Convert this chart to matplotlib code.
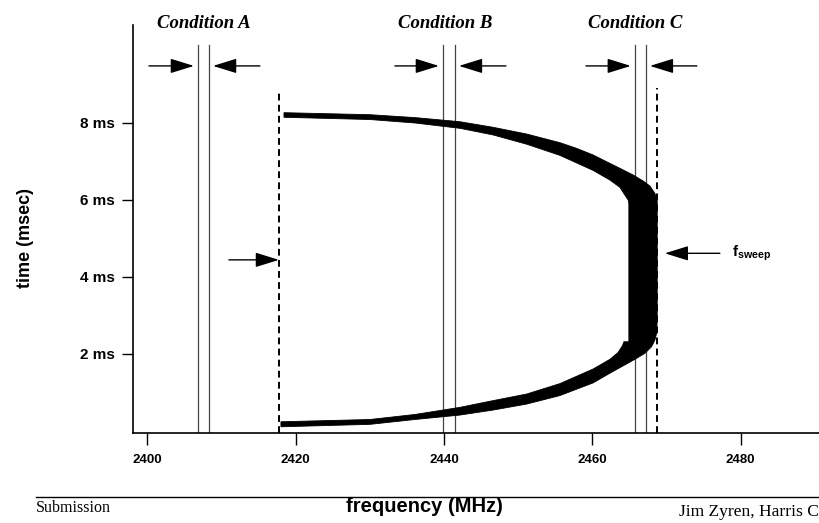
import matplotlib
matplotlib.use("Agg")
import matplotlib.pyplot as plt

# frequency axis / time axis
freq_ticks = [2400, 2420, 2440, 2460, 2480]
time_ticks = [2, 4, 6, 8]
time_labels = ["2 ms", "4 ms", "6 ms", "8 ms"]

# condition channel edges (MHz)
conditions = ["Condition A", "Condition B", "Condition C"]
cond_lo = [2406.85, 2439.87, 2465.74]
cond_hi = [2408.33, 2441.48, 2467.22]
cond_arrow_left = [2400.24, 2433.40, 2459.14]
cond_arrow_right = [2415.20, 2448.36, 2474.10]
cond_text_x = [2407.7, 2440.2, 2465.74]

# sweep limits (dashed)
sweep_lo = 2417.76
sweep_hi = 2468.71

# outline of the swept band: (freq MHz, time ms)
upper_outer_f = [2418.44, 2430.03, 2436.09, 2442.16, 2446.64, 2451.15, 2455.64, 2457.88,
                 2460.12, 2461.93, 2463.72, 2465.51, 2466.86, 2467.76, 2468.44, 2468.75]
upper_outer_t = [8.257, 8.205, 8.130, 8.023, 7.878, 7.704, 7.479, 7.333,
                 7.160, 6.986, 6.815, 6.641, 6.485, 6.356, 6.166, 5.992]
lower_outer_f = [2468.75, 2468.67, 2468.44, 2467.99, 2467.09, 2465.97, 2464.62, 2462.37,
                 2460.12, 2455.63, 2451.15, 2446.64, 2442.16, 2436.09, 2430.03, 2418.03]
lower_outer_t = [2.879, 2.534, 2.361, 2.187, 2.016, 1.886, 1.740, 1.500,
                 1.250, 0.920, 0.700, 0.545, 0.415, 0.300, 0.174, 0.111]
lower_inner_f = [2418.03, 2430.03, 2436.09, 2442.16, 2446.64, 2451.15, 2455.63, 2460.12,
                 2462.37, 2463.49, 2464.08, 2464.26, 2464.93]
lower_inner_t = [0.241, 0.300, 0.430, 0.615, 0.790, 0.960, 1.230, 1.610,
                 1.860, 2.040, 2.220, 2.316, 2.316]
upper_inner_f = [2464.93, 2464.84, 2464.39, 2463.72, 2462.37, 2460.12, 2455.64, 2451.15,
                 2446.64, 2442.16, 2436.09, 2430.03, 2418.44]
upper_inner_t = [5.900, 5.992, 6.122, 6.322, 6.511, 6.760, 7.150, 7.440,
                 7.680, 7.852, 7.990, 8.080, 8.138]

band_f = upper_outer_f + lower_outer_f + lower_inner_f + upper_inner_f
band_t = upper_outer_t + lower_outer_t + lower_inner_t + upper_inner_t

plt.rcParams['font.family'] = ['Liberation Sans', 'DejaVu Sans']
plt.rcParams['font.weight'] = 'bold'
plt.rcParams['mathtext.fontset'] = 'custom'
plt.rcParams['mathtext.bf'] = 'Liberation Sans:bold'
plt.rcParams['mathtext.rm'] = 'Liberation Sans:bold'

fig = plt.figure(figsize=(8.19, 5.23), dpi=100)
ax = fig.add_axes([0.1624, 0.1721, 0.9231, 0.780])
ax.set_xlim(2398.09, 2500)
ax.set_ylim(-0.05, 10.53)

for s in ['top', 'right']:
    ax.spines[s].set_visible(False)
for s in ['left', 'bottom']:
    ax.spines[s].set_linewidth(1.2)

ax.set_xticks(freq_ticks)
ax.set_xticklabels([str(v) for v in freq_ticks])
ax.set_yticks(time_ticks)
ax.set_yticklabels(time_labels)
ax.tick_params(axis='x', length=8.6, width=1, pad=6.5, labelsize=9.5)
ax.tick_params(axis='y', length=8, width=1, pad=5, labelsize=11)

# band
ax.fill(band_f, band_t, color='black', lw=0.6, zorder=3)

# condition lines + arrows
arrow_t = 9.47
aprops = dict(arrowstyle='-|>,head_length=1.45,head_width=0.45', mutation_scale=10,
              lw=1, color='black', shrinkA=0, shrinkB=0)
for i in range(3):
    ax.plot([cond_lo[i], cond_lo[i]], [-0.05, 10.0], color='#444444', lw=0.9, zorder=2)
    ax.plot([cond_hi[i], cond_hi[i]], [-0.05, 10.0], color='#444444', lw=0.9, zorder=2)
    ax.annotate('', xy=(cond_lo[i] - 0.55, arrow_t), xytext=(cond_arrow_left[i], arrow_t),
                arrowprops=aprops)
    ax.annotate('', xy=(cond_hi[i] + 0.55, arrow_t), xytext=(cond_arrow_right[i], arrow_t),
                arrowprops=aprops)
    ax.text(cond_text_x[i], 10.57, conditions[i], ha='center', va='center',
            family='Liberation Serif', style='italic', weight='bold', fontsize=13.5)

# dashed sweep limits
ax.plot([sweep_lo, sweep_lo], [-0.05, 8.85], color='black', lw=1.4, ls=(0, (3.5, 2.2)), zorder=4)
ax.plot([sweep_hi, sweep_hi], [-0.05, 8.90], color='black', lw=1.4, ls=(0, (3.5, 2.2)), zorder=4)

ax.annotate('', xy=(sweep_lo, 4.44), xytext=(2411.02, 4.44), arrowprops=aprops)
ax.annotate('', xy=(2469.78, 4.61), xytext=(2477.20, 4.61), arrowprops=aprops)
ax.text(2478.8, 4.61, r'$\mathbf{f}_{\mathbf{sweep}}$', ha='left', va='center', fontsize=11)

# axis titles
fig.text(25 / 819, 1 - 237.5 / 523, 'time (msec)', rotation=90, ha='center', va='center',
         fontsize=13, weight='bold')
fig.text(424 / 819, 1 - 506 / 523, 'frequency (MHz)', ha='center', va='center',
         fontsize=14.5, weight='bold')

# footer
fig.add_artist(plt.Line2D([36 / 819, 1.0], [1 - 497 / 523, 1 - 497 / 523],
                          transform=fig.transFigure, color='black', lw=1))
fig.text(36 / 819, 1 - 508.5 / 523, 'Submission', ha='left', va='center',
         family='Liberation Serif', weight='normal', fontsize=11.5)
fig.text(679 / 819, 1 - 512 / 523, 'Jim Zyren, Harris Corporation', ha='left', va='center',
         family='Liberation Serif', weight='normal', fontsize=12.6)

fig.savefig('out.png', dpi=100)
